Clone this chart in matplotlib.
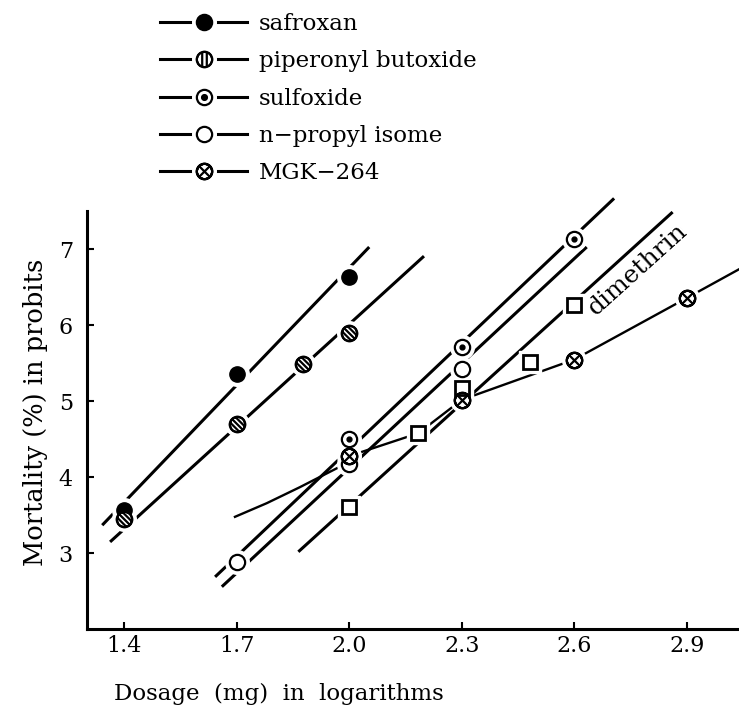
import numpy as np
import matplotlib
matplotlib.use('Agg')
import matplotlib.pyplot as plt
from matplotlib.path import Path
from matplotlib.lines import Line2D
from matplotlib.legend_handler import HandlerTuple

plt.rcParams['font.family'] = ['DejaVu Serif']

# measured points
safroxan_x = [1.4, 1.7, 2.0]
safroxan_y = [3.57, 5.36, 6.63]
piperonyl_x = [1.4, 1.7, 1.876, 2.0]
piperonyl_y = [3.45, 4.70, 5.49, 5.90]
sulfoxide_x = [2.0, 2.3, 2.6]
sulfoxide_y = [4.50, 5.72, 7.14]
npropyl_x = [1.7, 2.0, 2.3]
npropyl_y = [2.89, 4.17, 5.42]
mgk_x = [2.0, 2.3, 2.6, 2.9]
mgk_y = [4.28, 5.02, 5.55, 6.36]
dimethrin_x = [2.0, 2.184, 2.3, 2.482, 2.6]
dimethrin_y = [3.61, 4.58, 5.18, 5.52, 6.27]

# drawn regression lines (end points)
safroxan_fit_x = [1.341, 2.053]
safroxan_fit_y = [3.37, 7.03]
piperonyl_fit_x = [1.362, 2.199]
piperonyl_fit_y = [3.15, 6.91]
sulfoxide_fit_x = [1.642, 2.706]
sulfoxide_fit_y = [2.69, 7.67]
npropyl_fit_x = [1.66, 2.633]
npropyl_fit_y = [2.56, 7.03]
dimethrin_fit_x = [1.864, 2.862]
dimethrin_fit_y = [3.02, 7.49]
mgk_curve_x = [1.695, 1.78, 1.868, 1.975, 2.0, 2.184, 2.3, 2.6, 2.9, 3.04]
mgk_curve_y = [3.48, 3.66, 3.87, 4.14, 4.28, 4.58, 5.02, 5.55, 6.36, 6.74]

x_ticks = [1.4, 1.7, 2.0, 2.3, 2.6, 2.9]
x_ticklabels = ['1.4', '1.7', '2.0', '2.3', '2.6', '2.9']
y_ticks = [3, 4, 5, 6, 7]

legend_labels = ['safroxan', 'piperonyl butoxide', 'sulfoxide', 'n\u2212propyl isome', 'MGK\u2212264']


def circle_with_chords(angle_deg, offsets):
    # unit circle plus parallel chords, used as a marker outline
    paths = [Path.unit_circle()]
    a = np.deg2rad(angle_deg)
    d = np.array([np.cos(a), np.sin(a)])
    n = np.array([-d[1], d[0]])
    for o in offsets:
        h = np.sqrt(1 - o ** 2)
        p0 = n * o - d * h
        p1 = n * o + d * h
        paths.append(Path([p0, p1], [Path.MOVETO, Path.LINETO]))
    return Path.make_compound_path(*paths)


hatched = circle_with_chords(-45, [-0.5, 0.0, 0.5])
hatched_legend = circle_with_chords(90, [-0.3, 0.3])
crossed = circle_with_chords(45, [0.0])
crossed = Path.make_compound_path(crossed, circle_with_chords(-45, [0.0]))

fig = plt.figure(figsize=(7.39, 7.11), dpi=100)
ax = fig.add_axes([0.1175, 0.1149, 0.883, 0.5879])
ax.set_xlim(1.3, 3.04)
ax.set_ylim(2.0, 7.5)

lw = 2.2
ms = 11

for fx, fy in [(safroxan_fit_x, safroxan_fit_y), (piperonyl_fit_x, piperonyl_fit_y),
               (sulfoxide_fit_x, sulfoxide_fit_y), (npropyl_fit_x, npropyl_fit_y),
               (dimethrin_fit_x, dimethrin_fit_y)]:
    ax.plot(fx, fy, color='black', lw=lw, solid_capstyle='butt', clip_on=False, zorder=2)
ax.plot(mgk_curve_x, mgk_curve_y, color='black', lw=1.7, clip_on=False, zorder=2)

# white halos give the small breaks in the lines around each point
for px, py, m, s in [(safroxan_x, safroxan_y, 'o', ms), (piperonyl_x, piperonyl_y, 'o', ms),
                     (sulfoxide_x, sulfoxide_y, 'o', ms), (npropyl_x, npropyl_y, 'o', ms),
                     (mgk_x, mgk_y, 'o', ms), (dimethrin_x, dimethrin_y, 's', 10)]:
    ax.plot(px, py, ls='none', marker=m, ms=s + 6, mfc='white', mec='white', zorder=3)

mew = 1.6
ax.plot(safroxan_x, safroxan_y, ls='none', marker='o', ms=ms, mfc='black', mec='black', zorder=4)
ax.plot(piperonyl_x, piperonyl_y, ls='none', marker='o', ms=ms, mfc='white', mec='black', mew=mew, zorder=4)
ax.plot(piperonyl_x, piperonyl_y, ls='none', marker=hatched, ms=ms, mfc='none', mec='black', mew=mew, zorder=5)
ax.plot(sulfoxide_x, sulfoxide_y, ls='none', marker='o', ms=ms, mfc='white', mec='black', mew=mew, zorder=4)
ax.plot(sulfoxide_x, sulfoxide_y, ls='none', marker='o', ms=3.5, mfc='black', mec='black', zorder=5)
ax.plot(npropyl_x, npropyl_y, ls='none', marker='o', ms=ms, mfc='white', mec='black', mew=mew, zorder=4)
ax.plot(mgk_x, mgk_y, ls='none', marker='o', ms=ms, mfc='white', mec='black', mew=mew, zorder=4)
ax.plot(mgk_x, mgk_y, ls='none', marker=crossed, ms=ms, mfc='none', mec='black', mew=mew, zorder=5)
ax.plot(dimethrin_x, dimethrin_y, ls='none', marker='s', ms=10, mfc='white', mec='black', mew=2, zorder=4)

ax.text(2.768, 6.74, 'dimethrin', rotation=42, ha='center', va='center',
        rotation_mode='anchor', fontsize=18)

for side in ['top', 'right']:
    ax.spines[side].set_visible(False)
for side in ['left', 'bottom']:
    ax.spines[side].set_linewidth(2.2)

ax.set_xticks(x_ticks)
ax.set_xticklabels(x_ticklabels)
ax.set_yticks(y_ticks)
ax.tick_params(direction='in', length=5, width=1.5, labelsize=16)
ax.tick_params(axis='y', pad=10)
ax.tick_params(axis='x', pad=4)

ax.set_xlabel('Dosage  (mg)  in  logarithms', fontsize=16.5)
ax.xaxis.set_label_coords(0.294, -0.128)
ax.set_ylabel('Mortality (%) in probits', fontsize=18.5)
ax.yaxis.set_label_coords(-0.06, 0.52)


# legend
def lh(fill, mark=None, small=None):
    parts = [Line2D([], [], color='black', lw=lw),
             Line2D([], [], ls='none', marker='o', ms=ms + 6, mfc='white', mec='white'),
             Line2D([], [], ls='none', marker='o', ms=ms, mfc=fill, mec='black', mew=mew)]
    if mark is not None:
        parts.append(Line2D([], [], ls='none', marker=mark, ms=small or ms,
                            mfc='black' if small else 'none', mec='black', mew=mew))
    return tuple(parts)


handles = [lh('black'), lh('white', hatched_legend), lh('white', 'o', 3.5),
           lh('white'), lh('white', crossed)]
fig.legend(handles, legend_labels, handler_map={tuple: HandlerTuple(ndivide=1)},
           loc='upper left', bbox_to_anchor=(160 / 739, 1 - 13 / 711), frameon=False,
           borderpad=0, borderaxespad=0, handlelength=3.8, handletextpad=0.5,
           labelspacing=0.67, fontsize=16.5)

fig.savefig('out.png', dpi=100)
